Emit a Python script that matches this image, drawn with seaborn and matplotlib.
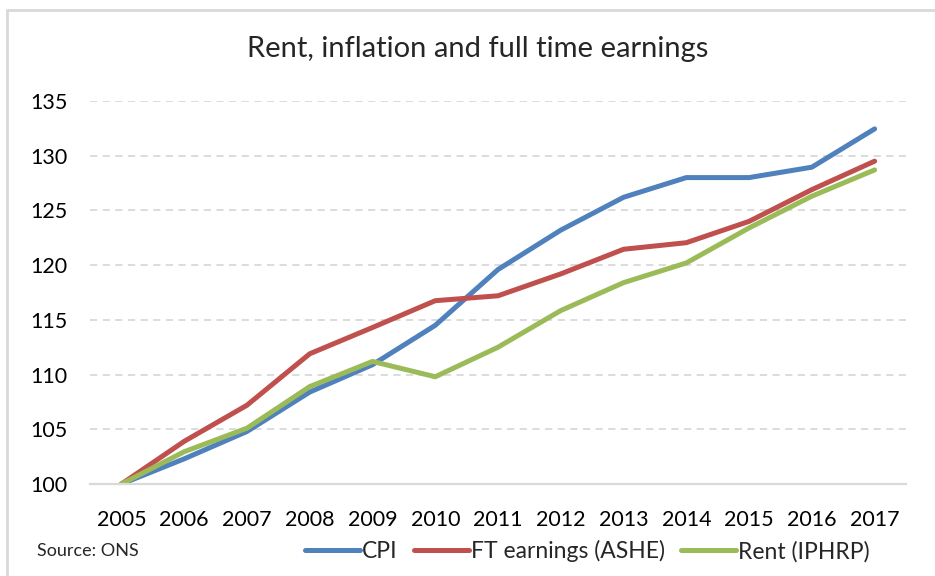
import matplotlib
matplotlib.use("Agg")
import matplotlib.pyplot as plt
from matplotlib.lines import Line2D
import seaborn as sns
import pandas as pd

years = [str(y) for y in range(2005, 2018)]
cpi = [100, 102.3, 104.8, 108.4, 110.9, 114.5, 119.6, 123.2, 126.2, 128.0, 128.0, 128.95, 132.45]
earnings = [100, 103.9, 107.2, 111.9, 114.3, 116.75, 117.2, 119.2, 121.45, 122.05, 124.0, 126.9, 129.5]
rent = [100, 102.95, 105.1, 108.9, 111.2, 109.8, 112.5, 115.85, 118.4, 120.2, 123.4, 126.3, 128.7]

series_names = ["CPI", "FT earnings (ASHE)", "Rent (IPHRP)"]
colors = ["#4F81BD", "#C0504D", "#9BBB59"]

df = pd.DataFrame({"year": years, "CPI": cpi,
                   "FT earnings (ASHE)": earnings, "Rent (IPHRP)": rent})
long = df.melt(id_vars="year", var_name="series", value_name="index")

sns.set_style("white")
plt.rcParams["font.family"] = ["Lato", "DejaVu Sans"]

fig = plt.figure(figsize=(9.35, 5.76), dpi=100)
ax = fig.add_axes([0.0963, 0.1597, 0.8727, 0.665])

sns.lineplot(data=long, x="year", y="index", hue="series", hue_order=series_names,
             palette=colors, linewidth=3.6, sort=False, legend=False, ax=ax)

ax.set_ylim(100, 135)
ax.set_xlim(-0.5, len(years) - 0.5)
ax.set_yticks(range(100, 136, 5))
ax.yaxis.grid(True, color="#D9D9D9", linestyle=(0, (4, 3)), linewidth=1.3)
ax.set_axisbelow(True)
for s in ["top", "right", "left"]:
    ax.spines[s].set_visible(False)
ax.spines["bottom"].set_color("#D9D9D9")
ax.spines["bottom"].set_linewidth(1.6)
ax.tick_params(axis="both", length=0, labelsize=15.5, colors="black")
ax.tick_params(axis="x", pad=19)
ax.tick_params(axis="y", pad=16)
ax.set_xlabel("")
ax.set_ylabel("")

fig.text(0.511, 0.915, "Rent, inflation and full time earnings", ha="center",
         va="center", fontsize=21)
fig.text(0.04, 0.043, "Source: ONS", ha="left", va="center", fontsize=13)

handles = [Line2D([0], [0], color=c, lw=3.6) for c in colors]
fig.legend(handles, series_names, loc="center", bbox_to_anchor=(0.628, 0.043),
           ncol=3, frameon=False, fontsize=16.5, handlelength=2.4,
           handletextpad=0.1, columnspacing=0.7)

# light frame on top and left, like the original chart area
fig.add_artist(Line2D([0.0075, 1.0], [0.983, 0.983], transform=fig.transFigure,
                      color="#D9D9D9", lw=2))
fig.add_artist(Line2D([0.0075, 0.0075], [0.0, 0.983], transform=fig.transFigure,
                      color="#D9D9D9", lw=2))

fig.savefig("out.png", dpi=100)
